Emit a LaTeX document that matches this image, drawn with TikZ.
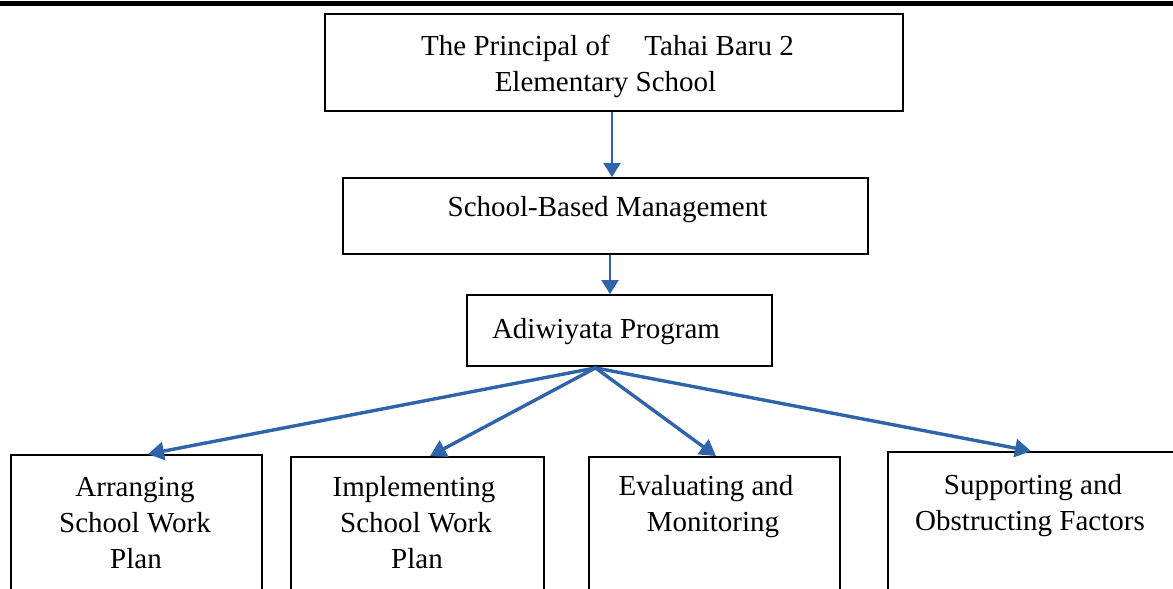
\documentclass[tikz,border=0pt]{standalone}
\usepackage{fontspec}
\setmainfont{Liberation Serif}
\usetikzlibrary{arrows.meta}
\definecolor{arrblue}{RGB}{47,99,170}
\begin{document}
\begin{tikzpicture}[x=0.5pt,y=-0.5pt,
  box/.style={draw=black,line width=0.9pt,inner sep=0pt,fill=none},
  lbl/.style={anchor=base,inner sep=0pt,font=\fontsize{14.5pt}{18pt}\selectfont},
  arrthin/.style={draw=arrblue,line width=1pt,-{Triangle[length=7pt,width=8.5pt]}},
  arrthick/.style={draw=arrblue,line width=1.7pt,-{Triangle[length=8pt,width=9pt]}}]
\useasboundingbox (0,0) rectangle (1173,589);
\clip (0,0) rectangle (1173,589);
\fill[black] (0,0.5) rectangle (1173,5.5);
% boxes
\node[box,minimum width=289pt,minimum height=48.5pt] (top) at (614,62.5) {};
\node[box,minimum width=262.5pt,minimum height=38pt] (sbm) at (605.5,216) {};
\node[box,minimum width=152.5pt,minimum height=35.5pt] (adi) at (619.5,330.5) {};
\node[box,minimum width=125.5pt,minimum height=97.5pt] (ba) at (136.5,552.5) {};
\node[box,minimum width=126.5pt,minimum height=96.5pt] (bb) at (417.5,553.5) {};
\node[box,minimum width=125.5pt,minimum height=96.5pt] (bc) at (714.5,553.5) {};
\node[box,minimum width=143pt,minimum height=99pt] (bd) at (1031,551) {};
% texts
\node[lbl] (t1) at (607.5,55) {The Principal of\hspace{1.2em}Tahai Baru 2};
\node[lbl] (t2) at (605.5,91) {Elementary School};
\node[lbl] (t3) at (607.5,216) {School-Based Management};
\node[lbl] (t4) at (606,338) {Adiwiyata Program};
\node[lbl] (a1) at (135,496) {Arranging};
\node[lbl] (a2) at (135,532) {School Work};
\node[lbl] (a3) at (136,568) {Plan};
\node[lbl] (b1) at (414,496) {Implementing};
\node[lbl] (b2) at (416,532) {School Work};
\node[lbl] (b3) at (417,568) {Plan};
\node[lbl] (c1) at (706,495) {Evaluating and};
\node[lbl] (c2) at (713,531) {Monitoring};
\node[lbl] (d1) at (1033,494) {Supporting and};
\node[lbl] (d2) at (1030,530) {Obstructing Factors};
% connectors
\draw[arrthin] ([xshift=-1pt]top.south) -- ([xshift=-1pt]top.south |- sbm.north);
\draw[arrthin] ([xshift=2.25pt]sbm.south) -- ([xshift=2.25pt]sbm.south |- adi.north);
\coordinate (fan) at ([xshift=-12pt,yshift=-0.5pt]adi.south);
\draw[arrthick] (fan) -- ([xshift=5.75pt]ba.north);
\draw[arrthick] (fan) -- ([xshift=6.25pt]bb.north);
\draw[arrthick] (fan) -- ([xshift=0.75pt]bc.north);
\draw[arrthick] (fan) -- (bd.north);
\end{tikzpicture}
\end{document}
